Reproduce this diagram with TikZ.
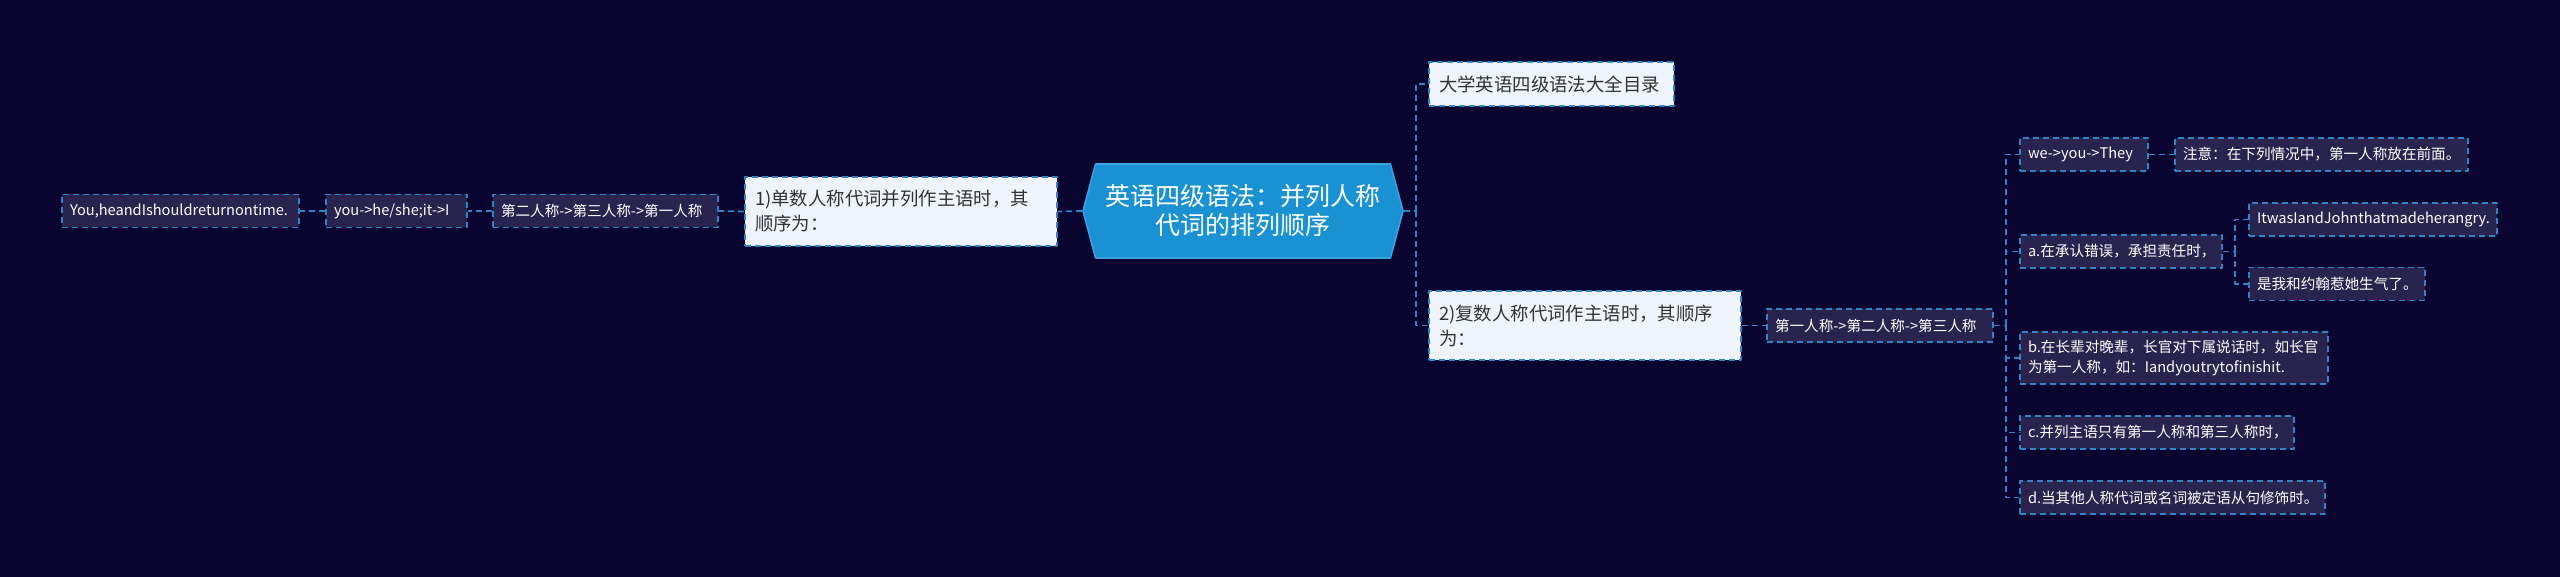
\documentclass[tikz,border=0pt]{standalone}
\usepackage{fontspec}
\setmainfont{Noto Sans CJK SC}
\usetikzlibrary{shapes.symbols}

\definecolor{bgnavy}{HTML}{0A0530}
\definecolor{chip}{HTML}{29244F}
\definecolor{paper}{HTML}{EEF3FC}
\definecolor{inkgray}{HTML}{333333}
\definecolor{linkblue}{HTML}{2F86C6}
\definecolor{rootblue}{HTML}{1991D2}
\definecolor{rootedge}{HTML}{3BA2E0}

\tikzset{
  link/.style={draw=linkblue, line width=0.9pt, dash pattern=on 3pt off 2pt},
  lightbox/.style={link, fill=paper, text=inkgray, align=left,
    font=\fontsize{9.2}{12.5}\selectfont, inner xsep=5pt, inner ysep=0pt},
  darkbox/.style={link, fill=chip, text=white, align=left,
    font=\fontsize{7.3}{10}\selectfont, inner xsep=4pt, inner ysep=0pt,
    minimum height=16.5pt},
  rootbox/.style={shape=signal, signal to=east and west, signal pointer angle=150,
    fill=rootblue, draw=rootedge, line width=0.8pt, text=white, align=center,
    font=\fontsize{12.5}{14.5}\selectfont, minimum width=160pt, minimum height=47pt,
    inner sep=0pt}
}

\begin{document}
\begin{tikzpicture}[x=0.5pt, y=-0.5pt, line join=round]

    % Sfondo
    \fill[bgnavy] (0,0) rectangle (2560,577);

    % Nodo centrale
    \node[rootbox] (root) at (1243,211) {英语四级语法：并列人称\\代词的排列顺序};

    % Ramo sinistro
    \node[lightbox, text width=146pt, minimum height=34.5pt] (sing) at (901,211.5)
        {1)单数人称代词并列作主语时，其\\顺序为：};
    \node[darkbox, text width=104.5pt] (order1) at (605.5,211) {第二人称->第三人称->第一人称};
    \node[darkbox, text width=62.5pt] (you2) at (396.5,211) {you->he/she;it->I};
    \node[darkbox, text width=110.5pt] (you1) at (180.5,211) {You,heandIshouldreturnontime.};

    \draw[link] (root.west) -- (sing.east);
    \draw[link] (sing.west) -- (order1.east);
    \draw[link] (order1.west) -- (you2.east);
    \draw[link] (you2.west) -- (you1.east);

    % Ramo destro
    \coordinate (rs) at (1416,211);
    \node[lightbox, text width=112.5pt, minimum height=22pt] (toc) at (1551.5,84)
        {大学英语四级语法大全目录};
    \node[lightbox, text width=146pt, minimum height=34.5pt] (plur) at (1585,325.5)
        {2)复数人称代词作主语时，其顺序\\为：};
    \node[darkbox, text width=105pt] (order2) at (1880,325.5) {第一人称->第二人称->第三人称};

    \draw[link] (root.east) -- (rs);
    \draw[link] (rs) |- (toc.west);
    \draw[link] (rs) |- (plur.west);
    \draw[link] (plur.east) -- (order2.west);

    % Casi particolari
    \coordinate (ps) at (2006,325.5);
    \node[darkbox, text width=56pt] (we) at (2084,154.5) {we->you->They};
    \node[darkbox, text width=138.5pt] (note) at (2321.5,154.5) {注意：在下列情况中，第一人称放在前面。};
    \node[darkbox, text width=93pt] (casea) at (2121,251.5) {a.在承认错误，承担责任时，};
    \node[darkbox, text width=116pt] (exen) at (2373,219.5) {ItwasIandJohnthatmadeherangry.};
    \node[darkbox, text width=80pt] (exzh) at (2337,284) {是我和约翰惹她生气了。};
    \node[darkbox, text width=146pt, minimum height=26pt] (caseb) at (2174,358)
        {b.在长辈对晚辈，长官对下属说话时，如长官\\为第一人称，如：Iandyoutrytofinishit.};
    \node[darkbox, text width=129pt] (casec) at (2157,432.5) {c.并列主语只有第一人称和第三人称时，};
    \node[darkbox, text width=144.5pt] (cased) at (2172.5,497.5) {d.当其他人称代词或名词被定语从句修饰时。};

    \draw[link] (order2.east) -- (ps);
    \foreach \n in {we, casea, caseb, casec, cased}
        \draw[link] (ps) |- (\n.west);
    \draw[link] (we.east) -- (note.west);
    \coordinate (as) at (2235,251.5);
    \draw[link] (casea.east) -- (as);
    \draw[link] (as) |- (exen.west);
    \draw[link] (as) |- (exzh.west);

\end{tikzpicture}
\end{document}
